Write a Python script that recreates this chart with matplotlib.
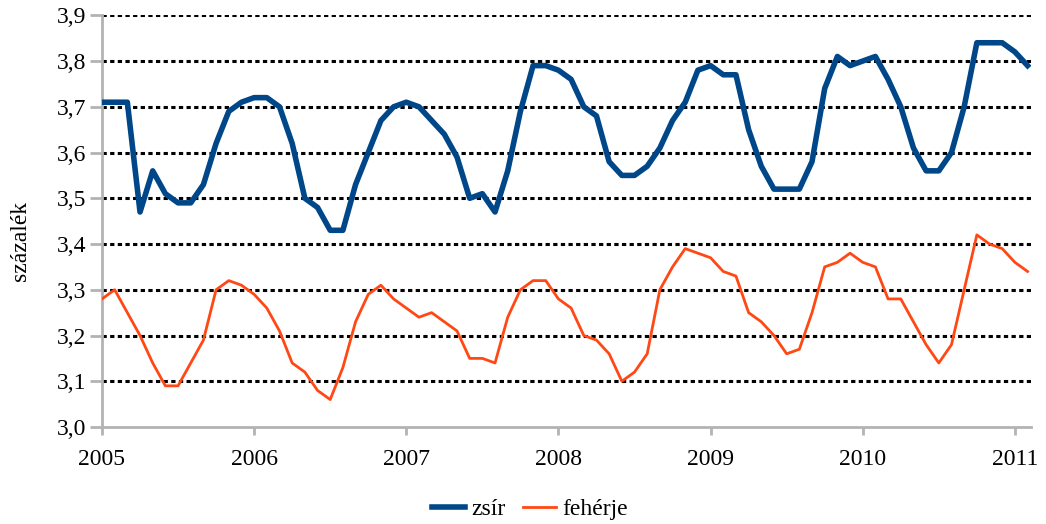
import os
import numpy as np
import matplotlib
matplotlib.use("Agg")
import matplotlib.pyplot as plt
from matplotlib.font_manager import FontProperties

plt.rcParams['font.family'] = 'serif'
plt.rcParams['font.serif'] = ['Liberation Serif', 'DejaVu Serif']

serif_file = '/usr/share/fonts/truetype/liberation/LiberationSerif-Regular.ttf'
if os.path.exists(serif_file):
    fp = FontProperties(fname=serif_file, size=17)
else:
    fp = FontProperties(family='serif', size=17)

# havi adatok 2005 jan - 2011 feb
zsir = [3.71, 3.71, 3.71, 3.47, 3.56, 3.51, 3.49, 3.49, 3.53, 3.62, 3.69, 3.71,   # 2005
        3.72, 3.72, 3.70, 3.62, 3.50, 3.48, 3.43, 3.43, 3.53, 3.60, 3.67, 3.70,   # 2006
        3.71, 3.70, 3.67, 3.64, 3.59, 3.50, 3.51, 3.47, 3.56, 3.69, 3.79, 3.79,   # 2007
        3.78, 3.76, 3.70, 3.68, 3.58, 3.55, 3.55, 3.57, 3.61, 3.67, 3.71, 3.78,   # 2008
        3.79, 3.77, 3.77, 3.65, 3.57, 3.52, 3.52, 3.52, 3.58, 3.74, 3.81, 3.79,   # 2009
        3.80, 3.81, 3.76, 3.70, 3.61, 3.56, 3.56, 3.60, 3.70, 3.84, 3.84, 3.84,   # 2010
        3.82, 3.79]                                                               # 2011

feherje = [3.28, 3.30, 3.25, 3.20, 3.14, 3.09, 3.09, 3.14, 3.19, 3.30, 3.32, 3.31,
           3.29, 3.26, 3.21, 3.14, 3.12, 3.08, 3.06, 3.13, 3.23, 3.29, 3.31, 3.28,
           3.26, 3.24, 3.25, 3.23, 3.21, 3.15, 3.15, 3.14, 3.24, 3.30, 3.32, 3.32,
           3.28, 3.26, 3.20, 3.19, 3.16, 3.10, 3.12, 3.16, 3.30, 3.35, 3.39, 3.38,
           3.37, 3.34, 3.33, 3.25, 3.23, 3.20, 3.16, 3.17, 3.25, 3.35, 3.36, 3.38,
           3.36, 3.35, 3.28, 3.28, 3.23, 3.18, 3.14, 3.18, 3.30, 3.42, 3.40, 3.39,
           3.36, 3.34]

years = ['2005', '2006', '2007', '2008', '2009', '2010', '2011']
yticks = [3.0, 3.1, 3.2, 3.3, 3.4, 3.5, 3.6, 3.7, 3.8, 3.9]

months = np.arange(len(zsir))

fig = plt.figure(figsize=(10.46, 5.24), dpi=100)
ax = fig.add_axes([0.0975, 0.1851, 0.8879, 0.7857])

ax.plot(months, zsir, color='#00478A', lw=4, label='zsír', zorder=3)
ax.plot(months, feherje, color='#FF4814', lw=2, label='fehérje', zorder=3)

ax.set_xlim(0, 73.25)
ax.set_ylim(3.0, 3.9)

ax.set_xticks(np.arange(len(years)) * 12, labels=years, fontproperties=fp)
ax.set_yticks(yticks, labels=[f"{v:.1f}".replace('.', ',') for v in yticks],
              fontproperties=fp)

ax.grid(axis='y', color='black', lw=2.2, linestyle=(0, (1.4, 1.1)), zorder=1)
ax.get_ygridlines()[0].set_visible(False)
ax.set_axisbelow(True)

for s in ['top', 'right']:
    ax.spines[s].set_visible(False)
for s in ['left', 'bottom']:
    ax.spines[s].set_color('#B3B3B3')
    ax.spines[s].set_linewidth(2)

ax.tick_params(axis='y', length=9, width=2, color='#B3B3B3', pad=2)
ax.tick_params(axis='x', length=6, width=2, color='#B3B3B3', pad=10)

fig.text(0.02, 0.54, 'százalék', rotation=90, ha='center', va='center',
         fontproperties=fp)

fig.legend(loc='center', bbox_to_anchor=(530 / 1046, 1 - 509 / 524), ncol=2,
           frameon=False, prop=fp, handlelength=1.4, handletextpad=0.3,
           columnspacing=0.7)

fig.savefig('out.png', dpi=100)
